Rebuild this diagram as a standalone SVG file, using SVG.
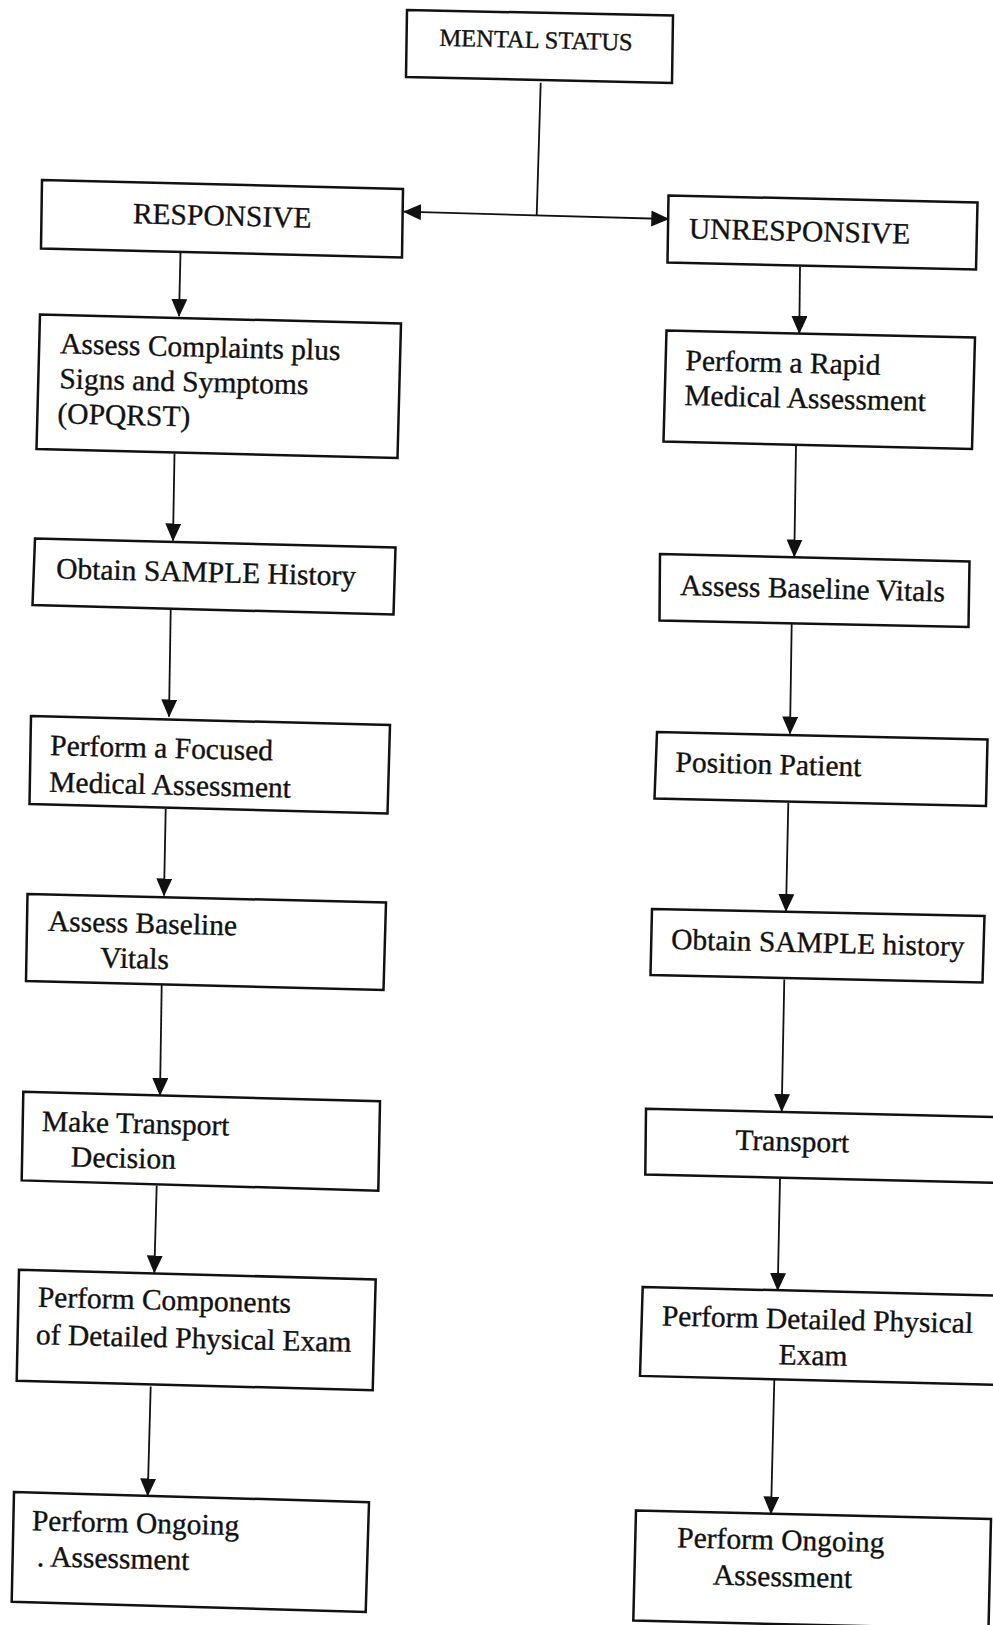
<svg xmlns="http://www.w3.org/2000/svg" width="993" height="1625" viewBox="0 0 993 1625">
<defs>
<marker id="ah" markerUnits="userSpaceOnUse" markerWidth="18" markerHeight="16" viewBox="0 0 18 16" refX="17" refY="8" orient="auto-start-reverse">
<path d="M0,0 L18,8 L0,16 z" fill="#111"/>
</marker>
<style>
.box{fill:none;stroke:#111;stroke-width:2.5;stroke-linejoin:miter}
.lbl{font-family:"Liberation Serif","Times New Roman",serif;font-size:29.5px;fill:#111;stroke:#111;stroke-width:0.35}
.conn line{stroke:#111;stroke-width:1.8;fill:none}
</style>
</defs>
<rect width="993" height="1625" fill="#fff"/>

<g id="connectors" class="conn">
<line x1="540.7" y1="82.7" x2="536.7" y2="215.5"/>
<line x1="404" y1="211.7" x2="668.3" y2="219" marker-start="url(#ah)" marker-end="url(#ah)"/>
<line x1="180.5" y1="252" x2="179" y2="316" marker-end="url(#ah)"/>
<line x1="174.5" y1="453.5" x2="173" y2="540.5" marker-end="url(#ah)"/>
<line x1="170.7" y1="610" x2="169" y2="716.5" marker-end="url(#ah)"/>
<line x1="165.7" y1="809" x2="164" y2="895.5" marker-end="url(#ah)"/>
<line x1="161.7" y1="985" x2="160" y2="1095" marker-end="url(#ah)"/>
<line x1="156.7" y1="1185.5" x2="154.3" y2="1272.5" marker-end="url(#ah)"/>
<line x1="150.7" y1="1386.5" x2="147.7" y2="1495.5" marker-end="url(#ah)"/>
<line x1="800" y1="266.7" x2="799.3" y2="333" marker-end="url(#ah)"/>
<line x1="796" y1="445" x2="794.3" y2="556.5" marker-end="url(#ah)"/>
<line x1="791.7" y1="623.5" x2="790" y2="733.5" marker-end="url(#ah)"/>
<line x1="788.3" y1="803" x2="786" y2="911" marker-end="url(#ah)"/>
<line x1="784.3" y1="979.5" x2="781.7" y2="1111" marker-end="url(#ah)"/>
<line x1="780" y1="1179" x2="777.7" y2="1290" marker-end="url(#ah)"/>
<line x1="774.3" y1="1380" x2="771" y2="1513.5" marker-end="url(#ah)"/>
</g>

<g id="mental-status">
<polygon class="box" points="407,10 673,15.5 672,83 406,77"/>
<text class="lbl" style="font-size:24.5px" x="439.3" y="45.7" transform="rotate(1.4 439.3 45.7)">MENTAL STATUS</text>
</g>

<g id="responsive">
<polygon class="box" points="42,180 403,189 402,257.5 41,248.5"/>
<text class="lbl" x="132.7" y="223.3" transform="rotate(1.4 132.7 223.3)">RESPONSIVE</text>
</g>

<g id="assess-complaints">
<polygon class="box" points="40,314.5 401,323.5 397.5,458 36.5,449"/>
<text class="lbl" x="60" y="353.3" transform="rotate(1.4 60 353.3)"><tspan x="60" y="353.3">Assess Complaints plus</tspan><tspan x="60" y="388.3">Signs and Symptoms</tspan><tspan x="59" y="423.3">(OPQRST)</tspan></text>
</g>

<g id="obtain-sample-left">
<polygon class="box" points="35,538.5 395.5,547.5 393.5,614.5 32.5,605"/>
<text class="lbl" x="56" y="578.3" transform="rotate(1.4 56 578.3)">Obtain SAMPLE History</text>
</g>

<g id="focused-assessment">
<polygon class="box" points="31,716 390,725 387.5,813.5 29.5,804"/>
<text class="lbl" x="50" y="755" transform="rotate(1.4 50 755)"><tspan x="50" y="755">Perform a Focused</tspan><tspan x="50" y="791.7">Medical Assessment</tspan></text>
</g>

<g id="baseline-vitals-left">
<polygon class="box" points="27.5,894 386,902.5 383.5,990 26,981"/>
<text class="lbl" x="47.7" y="930.7" transform="rotate(1.4 47.7 930.7)"><tspan x="47.7" y="930.7">Assess Baseline</tspan><tspan x="101" y="966">Vitals</tspan></text>
</g>

<g id="transport-decision">
<polygon class="box" points="23.3,1091.7 380,1101.3 378.3,1190.7 21.7,1180.4"/>
<text class="lbl" x="41.7" y="1130.9" transform="rotate(1.4 41.7 1130.9)"><tspan x="41.7" y="1130.9">Make Transport</tspan><tspan x="71.7" y="1165.7">Decision</tspan></text>
</g>

<g id="detailed-components">
<polygon class="box" points="19,1269.8 375.7,1279.4 372.7,1390.3 16.7,1380.7"/>
<text class="lbl" x="37.7" y="1306.7" transform="rotate(1.4 37.7 1306.7)"><tspan x="37.7" y="1306.7">Perform Components</tspan><tspan x="36.7" y="1344.2">of Detailed Physical Exam</tspan></text>
</g>

<g id="ongoing-left">
<polygon class="box" points="14,1491.9 369,1502.2 365.7,1612 11.7,1601.8"/>
<text class="lbl" x="31.7" y="1530.2" transform="rotate(1.4 31.7 1530.2)"><tspan x="31.7" y="1530.2">Perform Ongoing</tspan><tspan x="37.7" y="1566">. Assessment</tspan></text>
</g>

<g id="unresponsive">
<polygon class="box" points="668.5,195.5 977.5,202.5 976,269.5 667.5,262.5"/>
<text class="lbl" x="688.7" y="238.3" transform="rotate(1.4 688.7 238.3)">UNRESPONSIVE</text>
</g>

<g id="rapid-assessment">
<polygon class="box" points="666.5,330.5 975,337.5 972,449 663.5,441.5"/>
<text class="lbl" x="685.3" y="370" transform="rotate(1.4 685.3 370)"><tspan x="685.3" y="370">Perform a Rapid</tspan><tspan x="685" y="405">Medical Assessment</tspan></text>
</g>

<g id="baseline-vitals-right">
<polygon class="box" points="660,554 969.5,561.5 968.5,627 659.5,620.5"/>
<text class="lbl" x="680" y="595" transform="rotate(1.4 680 595)">Assess Baseline Vitals</text>
</g>

<g id="position-patient">
<polygon class="box" points="657,732 987.5,739.5 986,806 654.5,798.5"/>
<text class="lbl" x="675.3" y="771.7" transform="rotate(1.4 675.3 771.7)">Position Patient</text>
</g>

<g id="obtain-sample-right">
<polygon class="box" points="652,909 984.5,916 982.5,982.5 650.5,975"/>
<text class="lbl" x="671" y="949" transform="rotate(1.4 671 949)">Obtain SAMPLE history</text>
</g>

<g id="transport">
<polygon class="box" points="646,1108.8 1010,1117.5 1008,1183 645.3,1174.6"/>
<text class="lbl" x="735.3" y="1149.7" transform="rotate(1.4 735.3 1149.7)">Transport</text>
</g>

<g id="detailed-exam">
<polygon class="box" points="642.7,1286.9 1010,1296 1008,1385 640,1375.9"/>
<text class="lbl" x="661.7" y="1325.4" transform="rotate(1.4 661.7 1325.4)"><tspan x="661.7" y="1325.4">Perform Detailed Physical</tspan><tspan x="779.3" y="1361.3">Exam</tspan></text>
</g>

<g id="ongoing-right">
<polygon class="box" points="636,1510.4 991,1519 988.5,1629 633.3,1620.6"/>
<text class="lbl" x="677" y="1547.2" transform="rotate(1.4 677 1547.2)"><tspan x="677" y="1547.2">Perform Ongoing</tspan><tspan x="713.7" y="1583.7">Assessment</tspan></text>
</g>
</svg>
